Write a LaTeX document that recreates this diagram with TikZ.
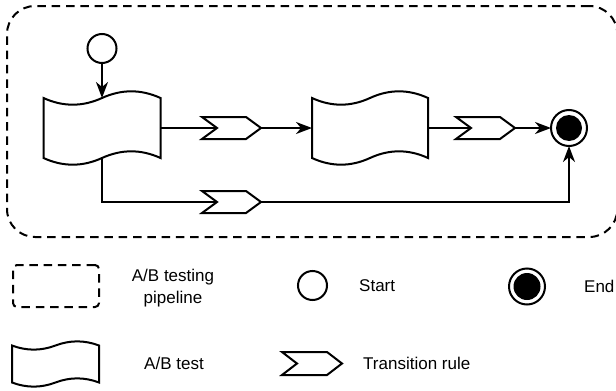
\documentclass[tikz,border=0pt]{standalone}
\usepackage{fontspec}
\setmainfont{Liberation Sans}
\usetikzlibrary{arrows.meta,calc}

% tape (wavy) outline around a named box node: #1 node, #2 width, #3 wave amplitude
\newcommand\tapepath[3]{%
  \draw[shp] (#1.north west) .. controls +(#2/6,#3) and +(-#2/6,#3) .. (#1.north)
    .. controls +(#2/6,-#3) and +(-#2/6,-#3) .. (#1.north east)
    -- (#1.south east) .. controls +(-#2/6,-#3) and +(#2/6,-#3) .. (#1.south)
    .. controls +(-#2/6,#3) and +(#2/6,#3) .. (#1.south west) -- cycle;}
% chevron outline around a named box node: #1 node, #2 notch depth
\newcommand\chevpath[2]{%
  \draw[shp] (#1.north west) -- ([xshift=-#2]#1.north east) -- (#1.east)
    -- ([xshift=-#2]#1.south east) -- (#1.south west) -- ([xshift=#2]#1.west) -- cycle;}

\tikzset{
  shp/.style={line width=2pt, fill=white, line join=miter},
  box/.style={draw=none, inner sep=0pt, outer sep=0pt, rectangle},
  conn/.style={line width=2pt},
  arr/.style={conn, -{Stealth[length=16pt,width=12pt,inset=5pt]}},
  lbl/.style={font=\fontsize{17}{22}\selectfont, inner sep=0pt},
  dashbox/.style={draw, line width=2pt, dash pattern=on 8.5pt off 5.8pt, inner sep=0pt, outer sep=0pt},
  startc/.style={circle, draw, line width=2pt, inner sep=0pt, outer sep=0pt, fill=white, minimum size=29pt},
  endc/.style={circle, draw, line width=2pt, inner sep=0pt, outer sep=0pt, fill=white, minimum size=36pt},
}

\begin{document}
\begin{tikzpicture}[x=1pt, y=-1pt]
\useasboundingbox (0,0) rectangle (616,391);

% pipeline container
\node[dashbox, rounded corners=28pt, minimum width=610.3pt, minimum height=231pt] (pipe) at (312.15,121.5) {};

% main nodes
\node[startc] (start) at (102,48.5) {};
\node[box, minimum width=117pt, minimum height=60pt] (t1) at (102,128) {};
\node[box, minimum width=116pt, minimum height=60pt] (t2) at (370,128) {};
\node[box, minimum width=59pt, minimum height=22pt] (c1) at (231.5,128) {};
\node[box, minimum width=59pt, minimum height=22pt] (c2) at (485.5,128) {};
\node[box, minimum width=59pt, minimum height=22pt] (c3) at (231.5,202) {};
\node[endc] (fin) at (569,128) {};
\fill (fin.center) circle (13);

\tapepath{t1}{117}{8.9}
\tapepath{t2}{116}{8.9}
\chevpath{c1}{15}
\chevpath{c2}{15}
\chevpath{c3}{15}

% connectors
\draw[arr] (start.south) -- (t1.north);
\draw[conn] (t1.east) -- ([xshift=15]c1.west);
\draw[arr] (c1.east) -- (t2.west);
\draw[conn] (t2.east) -- ([xshift=15]c2.west);
\draw[arr] (c2.east) -- (fin.west);
\draw[conn] (t1.south) |- ([xshift=15]c3.west);
\draw[arr] (c3.east) -| (fin.south);

% legend
\node[dashbox, rounded corners=4pt, minimum width=86pt, minimum height=42pt] (lgpipe) at (56,286) {};
\node[lbl, align=center] (lgpipet) at (173,288) {A/B testing\\pipeline};
\node[startc] (lgstart) at (312.5,285.5) {};
\node[lbl, anchor=west] (lgstartt) at (359,285.5) {Start};
\node[endc] (lgend) at (527,286.5) {};
\fill (lgend.center) circle (13.5);
\node[lbl, anchor=west] (lgendt) at (584,286.5) {End};

\node[box, minimum width=87pt, minimum height=37pt] (lgtape) at (55.5,364) {};
\tapepath{lgtape}{87}{5.5}
\node[lbl] (lgtapet) at (174,363) {A/B test};
\node[box, minimum width=60pt, minimum height=23pt] (lgchev) at (312,363.5) {};
\chevpath{lgchev}{15}
\node[lbl, anchor=west] (lgchevt) at (363,363) {Transition rule};
\end{tikzpicture}
\end{document}
